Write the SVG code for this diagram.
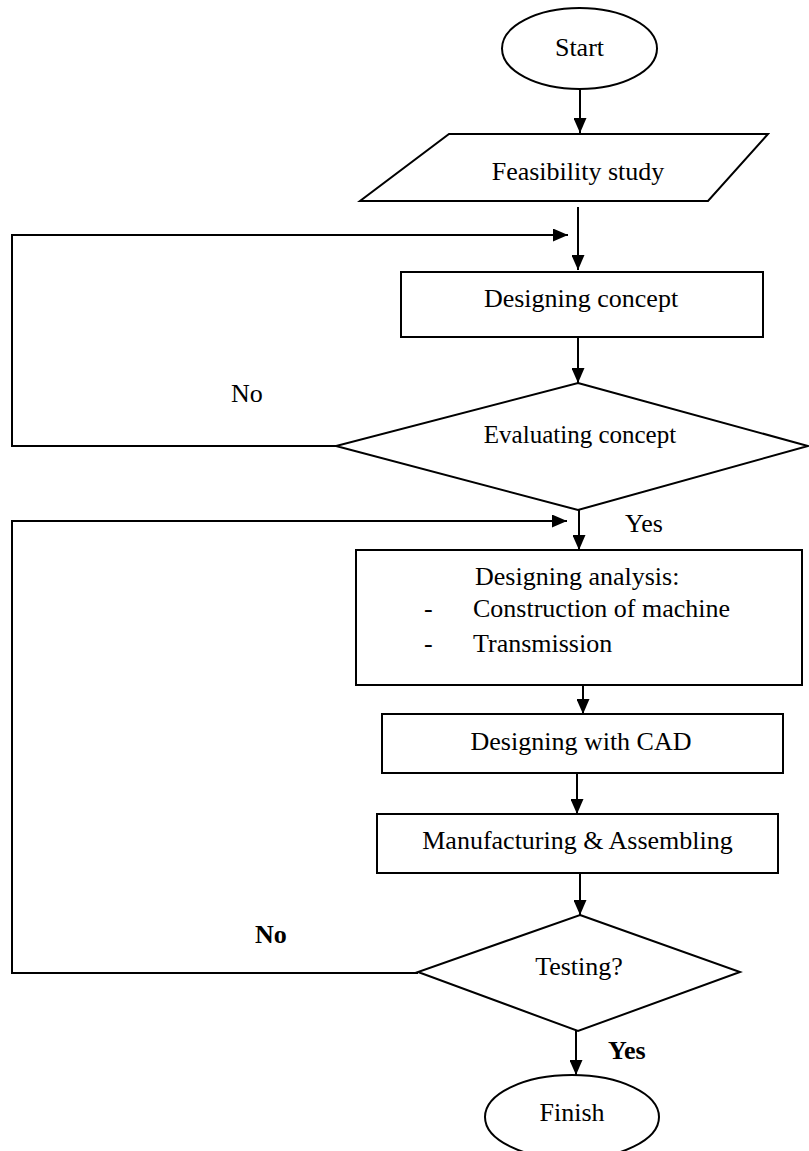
<svg xmlns="http://www.w3.org/2000/svg" width="809" height="1151" viewBox="0 0 809 1151">
<style>
.shape{fill:#fff;stroke:#000;stroke-width:2}
.line{fill:none;stroke:#000;stroke-width:2}
text{font-family:"Liberation Serif","Times New Roman",serif;font-size:26px;fill:#000}
.c{text-anchor:middle}
.b{font-weight:bold}
</style>
<defs>
<marker id="arr" markerUnits="userSpaceOnUse" markerWidth="15" markerHeight="13" refX="15" refY="6.5" orient="auto">
<path d="M0,0 L15,6.5 L0,13 z" fill="#000"/>
</marker>
</defs>
<rect width="809" height="1151" fill="#fff"/>
<g id="connectors">
<line class="line" x1="580" y1="89" x2="580" y2="133" marker-end="url(#arr)"/>
<line class="line" x1="578" y1="207" x2="578" y2="270" marker-end="url(#arr)"/>
<path class="line" d="M338,446 H12 V235 H568" marker-end="url(#arr)"/>
<line class="line" x1="578" y1="337" x2="578" y2="383" marker-end="url(#arr)"/>
<line class="line" x1="579" y1="510" x2="579" y2="550" marker-end="url(#arr)"/>
<path class="line" d="M418,973 H12 V521 H567" marker-end="url(#arr)"/>
<line class="line" x1="583" y1="685" x2="583" y2="714" marker-end="url(#arr)"/>
<line class="line" x1="577" y1="773" x2="577" y2="814" marker-end="url(#arr)"/>
<line class="line" x1="580" y1="871" x2="580" y2="915" marker-end="url(#arr)"/>
<line class="line" x1="576" y1="1031" x2="576" y2="1075" marker-end="url(#arr)"/>
<text x="231" y="402">No</text>
<text x="625" y="532">Yes</text>
<text class="b" x="255" y="943">No</text>
<text class="b" x="608" y="1059">Yes</text>
</g>
<g id="start">
<ellipse class="shape" cx="579.5" cy="48.5" rx="77.5" ry="40.5"/>
<text class="c" x="579.5" y="56">Start</text>
</g>
<g id="feasibility">
<polygon class="shape" points="449,134 768,134 708,201 360,201"/>
<text class="c" x="578" y="180">Feasibility study</text>
</g>
<g id="designing-concept">
<rect class="shape" x="401" y="272" width="362" height="65"/>
<text class="c" x="581" y="307">Designing concept</text>
</g>
<g id="evaluating-concept">
<polygon class="shape" points="578,383 808,446 578,510 336,446"/>
<text class="c" x="580" y="443" style="font-size:25px">Evaluating concept</text>
</g>
<g id="designing-analysis">
<rect class="shape" x="356" y="550" width="446" height="135"/>
<text x="475" y="585">Designing analysis:</text>
<text x="424" y="617">-</text>
<text x="473" y="617">Construction of machine</text>
<text x="424" y="652">-</text>
<text x="473" y="652">Transmission</text>
</g>
<g id="designing-cad">
<rect class="shape" x="382" y="714" width="401" height="59"/>
<text class="c" x="581" y="750">Designing with CAD</text>
</g>
<g id="manufacturing">
<rect class="shape" x="377" y="814" width="401" height="59"/>
<text class="c" x="577.5" y="849">Manufacturing &amp; Assembling</text>
</g>
<g id="testing">
<polygon class="shape" points="580,915 740,972 578,1031 418,972"/>
<text class="c" x="579" y="975">Testing?</text>
</g>
<g id="finish">
<ellipse class="shape" cx="572" cy="1117" rx="87" ry="42"/>
<text class="c" x="572" y="1121">Finish</text>
</g>
</svg>
